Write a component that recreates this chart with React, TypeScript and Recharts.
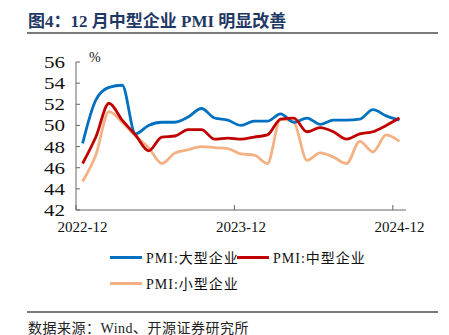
import { LineChart, Line, XAxis, YAxis } from "recharts"

const months = [
  "2022-12", "2023-01", "2023-02", "2023-03", "2023-04", "2023-05", "2023-06",
  "2023-07", "2023-08", "2023-09", "2023-10", "2023-11", "2023-12",
  "2024-01", "2024-02", "2024-03", "2024-04", "2024-05", "2024-06",
  "2024-07", "2024-08", "2024-09", "2024-10", "2024-11", "2024-12",
]
const large = [48.3, 52.4, 53.6, 53.8, 49.2, 50.0, 50.3, 50.3, 50.8, 51.6, 50.7, 50.5, 50.0, 50.4, 50.4, 51.1, 50.3, 50.7, 50.1, 50.5, 50.5, 50.6, 51.5, 50.9, 50.5]
const medium = [46.4, 48.9, 52.1, 50.5, 49.1, 47.6, 48.9, 49.0, 49.6, 49.6, 48.7, 48.8, 48.7, 48.9, 49.1, 50.6, 50.7, 49.4, 49.8, 49.4, 48.7, 49.2, 49.4, 50.0, 50.7]
const small = [44.7, 47.2, 51.3, 50.3, 49.0, 47.9, 46.4, 47.4, 47.7, 48.0, 47.9, 47.8, 47.3, 47.2, 46.4, 50.6, 50.3, 46.7, 47.4, 47.0, 46.4, 48.5, 47.5, 49.1, 48.5]
const yTicks = [42, 44, 46, 48, 50, 52, 54, 56]

const data = months.map((m, i) => ({ month: m, large: large[i], medium: medium[i], small: small[i] }))

const BLUE = "#0070C0"
const RED = "#C00000"
const ORANGE = "#F4B183"
const AXIS = "#666"
const PAD = 6.6
const SERIF = "'Liberation Serif', 'Noto Sans CJK SC', serif"

const XTick = (props: any) => {
  const { x, y, payload } = props
  return (
    <g>
      <line x1={x - PAD} x2={x - PAD} y1={y} y2={y - 5} stroke={AXIS} />
      <text x={x} y={y + 22} textAnchor="middle" fontSize={15} fontFamily={SERIF} fill="#111">
        {payload.value}
      </text>
    </g>
  )
}

const YTick = (props: any) => {
  const { x, y, payload } = props
  return (
    <g>
      <line x1={x} x2={x + 4} y1={y} y2={y} stroke={AXIS} />
      <text x={x - 11} y={y + 6} textAnchor="end" fontSize={17} fontFamily={SERIF} fill="#111"
        textLength={21} lengthAdjust="spacingAndGlyphs">
        {payload.value}
      </text>
    </g>
  )
}

function LegendItem({ color, label, left, top }: { color: string; label: string; left: number; top: number }) {
  return (
    <div style={{ position: "absolute", left, top, display: "flex", alignItems: "center", height: 16 }}>
      <div style={{ width: 32, height: 3, background: color, marginRight: 4 }} />
      <span style={{ fontFamily: SERIF, fontSize: 14, color: "#111", letterSpacing: 1, whiteSpace: "nowrap" }}>{label}</span>
    </div>
  )
}

export default function App() {
  return (
    <div style={{ position: "absolute", left: 0, top: 0, width: 449, height: 335, background: "#fff" }}>
      <div style={{ position: "absolute", left: 28, top: 7, fontFamily: SERIF, fontWeight: "bold", fontSize: 17, color: "#1F3864", whiteSpace: "nowrap" }}>
        图4：12 月中型企业 PMI 明显改善
      </div>
      <div style={{ position: "absolute", left: 27, top: 32, width: 411, height: 1.5, background: "#7a7a7a" }} />

      <div style={{ position: "absolute", left: 0, top: 0 }}>
        <LineChart width={449} height={335} data={data} margin={{ top: 62, right: 43, bottom: 95, left: 36 }}>
          <XAxis dataKey="month" interval={11} tickLine={false} tickSize={0} tickMargin={0}
            padding={{ left: PAD, right: PAD }} height={30} stroke={AXIS} tick={<XTick />} />
          <YAxis domain={[42, 56]} ticks={yTicks} interval={0} width={40} tickLine={false} tickSize={0} tickMargin={0}
            stroke={AXIS} tick={<YTick />} />
          <Line type="monotone" dataKey="small" stroke={ORANGE} strokeWidth={2.8} dot={false} isAnimationActive={false} />
          <Line type="monotone" dataKey="large" stroke={BLUE} strokeWidth={2.8} dot={false} isAnimationActive={false} />
          <Line type="monotone" dataKey="medium" stroke={RED} strokeWidth={2.8} dot={false} isAnimationActive={false} />
        </LineChart>
      </div>

      <div style={{ position: "absolute", left: 89, top: 50, fontFamily: SERIF, fontSize: 14, color: "#111" }}>%</div>

      <LegendItem color={BLUE} label="PMI:大型企业" left={110} top={249} />
      <LegendItem color={RED} label="PMI:中型企业" left={237} top={249} />
      <LegendItem color={ORANGE} label="PMI:小型企业" left={110} top={275} />

      <div style={{ position: "absolute", left: 27, top: 311, width: 411, height: 1.5, background: "#7a7a7a" }} />
      <div style={{ position: "absolute", left: 28, top: 317, fontFamily: SERIF, fontSize: 14, color: "#222", whiteSpace: "nowrap", letterSpacing: 0.5 }}>
        数据来源：Wind、开源证券研究所
      </div>
    </div>
  )
}
